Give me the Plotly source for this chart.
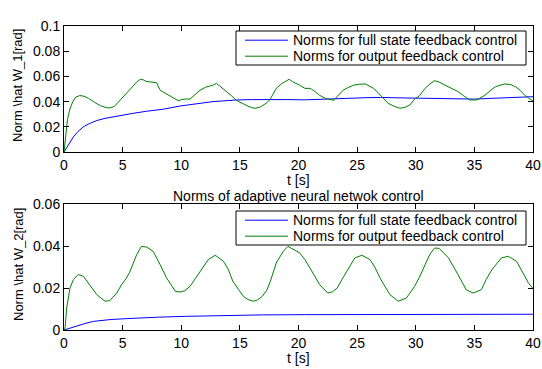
import plotly.graph_objects as go

# ---- data ----
t_top_green = [0, 0.15, 0.3, 0.5, 0.75, 1.0, 1.35, 1.7, 2.1, 2.6, 3.1, 3.6, 3.9, 4.3, 4.8, 5.2, 5.6, 5.9,
               6.2, 6.5, 6.8, 7.0, 7.3, 7.6, 7.9, 8.2, 8.5, 8.8, 9.1, 9.4, 9.75, 10.0, 10.3, 10.75, 11.2,
               11.6, 12.1, 12.7, 13.0, 13.4, 13.9, 14.3, 14.7, 15.2, 15.6, 16.0, 16.3, 16.7, 17.0, 17.3,
               17.6, 18.1, 18.6, 19.0, 19.2, 19.5, 19.85, 20.1, 20.55, 21.0, 21.4, 21.8, 22.3, 22.7, 23.0,
               23.3, 23.8, 24.2, 24.7, 25.2, 25.7, 26.1, 26.4, 26.8, 27.2, 27.6, 28.1, 28.65, 29.1, 29.5,
               29.9, 30.3, 30.8, 31.2, 31.6, 32.0, 32.5, 33.0, 33.6, 34.1, 34.6, 35.2, 35.6, 35.9, 36.4,
               36.8, 37.2, 37.6, 38.1, 38.5, 38.9, 39.3, 39.6, 40.0]
v_top_green = [0, 0.016, 0.026, 0.034, 0.040, 0.0435, 0.0448, 0.0443, 0.0425, 0.0395, 0.0368, 0.0352,
               0.035, 0.0362, 0.0413, 0.045, 0.049, 0.052, 0.0555, 0.0577, 0.0572, 0.0560, 0.0555, 0.0553,
               0.0550, 0.049, 0.0475, 0.0455, 0.0440, 0.0425, 0.0407, 0.0415, 0.042, 0.042, 0.0455,
               0.049, 0.0515, 0.053, 0.0545, 0.0515, 0.048, 0.0445, 0.041, 0.0385, 0.0368, 0.0352,
               0.0347, 0.0355, 0.0373, 0.039, 0.0421, 0.0505, 0.0545, 0.0566, 0.0577, 0.0558, 0.0545,
               0.053, 0.0505, 0.0505, 0.048, 0.045, 0.0425, 0.0413, 0.041, 0.044, 0.049, 0.051, 0.053,
               0.0538, 0.054, 0.052, 0.0505, 0.047, 0.0426, 0.039, 0.0365, 0.0347, 0.0355, 0.0373,
               0.042, 0.0445, 0.0505, 0.054, 0.0566, 0.0555, 0.053, 0.051, 0.048, 0.0445, 0.0413,
               0.0413, 0.0435, 0.045, 0.049, 0.0518, 0.053, 0.054, 0.0535, 0.0518, 0.049, 0.045, 0.043,
               0.0405]

t_top_blue = [0, 0.4, 0.8, 1.2, 1.65, 2.2, 2.8, 3.5, 4.4, 5.2, 5.9, 7.0, 8.5, 9.9, 11.3, 12.7, 14.0,
              14.7, 16.0, 17.3, 19.0, 20.5, 22.5, 24.0, 25.7, 27.0, 29.0, 30.8, 32.5, 34.0, 35.0, 36.5,
              38.0, 39.9, 40.0]
v_top_blue = [0, 0.0062, 0.012, 0.0163, 0.020, 0.0227, 0.025, 0.0267, 0.0283, 0.0296, 0.0307, 0.0323,
              0.034, 0.0365, 0.0385, 0.040, 0.0408, 0.0413, 0.0416, 0.0418, 0.0416, 0.0414, 0.0418,
              0.0425, 0.0431, 0.0433, 0.0429, 0.0426, 0.0423, 0.042, 0.042, 0.0426, 0.0432, 0.0439,
              0.0439]

t_bot_green = [0, 0.09, 0.23, 0.51, 0.8, 1.2, 1.65, 2.2, 2.8, 3.5, 3.9, 4.5, 4.9, 5.3, 5.6, 6.2, 6.6,
               7.05, 7.6, 8.2, 8.75, 9.5, 9.9, 10.3, 10.75, 11.2, 11.6, 12.3, 12.9, 13.6, 14.0, 14.4,
               14.9, 15.3, 15.7, 16.15, 16.5, 16.9, 17.3, 17.6, 18.1, 18.7, 19.1, 19.7, 20.1, 20.55,
               21.0, 21.4, 21.8, 22.5, 22.9, 23.3, 23.7, 24.1, 24.8, 25.4, 26.1, 26.5, 26.95, 27.4,
               27.8, 28.5, 29.2, 29.9, 30.3, 30.8, 31.2, 31.6, 32.0, 32.8, 33.2, 33.6, 34.3, 34.9,
               35.6, 36.0, 36.5, 37.3, 37.9, 38.6, 39.3, 39.6, 40.0]
v_bot_green = [0, 0.001, 0.0105, 0.020, 0.024, 0.0264, 0.0256, 0.0216, 0.0168, 0.0137, 0.014, 0.0176,
               0.0215, 0.0245, 0.0275, 0.0359, 0.0398, 0.0395, 0.0375, 0.0311, 0.0248, 0.0184, 0.0181,
               0.0187, 0.0208, 0.0245, 0.028, 0.0335, 0.0356, 0.0327, 0.029, 0.0232, 0.0192, 0.016,
               0.0145, 0.0137, 0.0143, 0.016, 0.019, 0.0232, 0.0319, 0.0375, 0.0398, 0.038, 0.0367,
               0.0335, 0.0295, 0.0255, 0.0216, 0.0176, 0.0182, 0.020, 0.024, 0.028, 0.0343, 0.0356,
               0.0335, 0.030, 0.0248, 0.0205, 0.0168, 0.0137, 0.0152, 0.0208, 0.025, 0.0311, 0.036,
               0.039, 0.0389, 0.0343, 0.030, 0.0264, 0.0192, 0.0176, 0.0192, 0.024, 0.0287, 0.0343,
               0.0351, 0.0327, 0.0256, 0.0225, 0.0198]

t_bot_blue = [0, 0.5, 1.08, 1.8, 2.5, 3.1, 4.0, 5.3, 6.5, 8.0, 10.3, 12.5, 14.4, 17.0, 20.5, 25.7,
              30.0, 35.0, 40.0]
v_bot_blue = [0, 0.0009, 0.0017, 0.0031, 0.0041, 0.0045, 0.005, 0.0054, 0.0058, 0.0061, 0.0065,
              0.0068, 0.007, 0.0072, 0.0073, 0.0074, 0.0073, 0.0073, 0.0075]

x_ticks = [0, 5, 10, 15, 20, 25, 30, 35, 40]
y1_ticks = [0, 0.02, 0.04, 0.06, 0.08, 0.1]
y1_labels = ["0", "0.02", "0.04", "0.06", "0.08", "0.1"]
y2_ticks = [0, 0.02, 0.04, 0.06]
y2_labels = ["0", "0.02", "0.04", "0.06"]

name_full = "Norms for full state feedback control"
name_out = "Norms for output feedback control"
BLUE = "#0000FF"
GREEN = "#008000"

FONT = "Liberation Sans, Arial, Helvetica, sans-serif"
W, H = 542, 369


def px(x):
    return x / W


def py(y):
    return 1 - y / H


fig = go.Figure()
fig.add_trace(go.Scatter(x=t_top_blue, y=v_top_blue, mode="lines", name=name_full,
                         line=dict(color=BLUE, width=1), xaxis="x", yaxis="y"))
fig.add_trace(go.Scatter(x=t_top_green, y=v_top_green, mode="lines", name=name_out,
                         line=dict(color=GREEN, width=1), xaxis="x", yaxis="y"))
fig.add_trace(go.Scatter(x=t_bot_blue, y=v_bot_blue, mode="lines", name=name_full,
                         line=dict(color=BLUE, width=1), xaxis="x2", yaxis="y2"))
fig.add_trace(go.Scatter(x=t_bot_green, y=v_bot_green, mode="lines", name=name_out,
                         line=dict(color=GREEN, width=1), xaxis="x2", yaxis="y2"))

xdom = [px(64), px(533)]
y1dom = [py(152), py(26)]
y2dom = [py(330), py(204)]

axis_common = dict(showline=True, linecolor="black", linewidth=1, mirror="ticks",
                   ticks="inside", ticklen=5, tickcolor="black", showgrid=False, zeroline=False,
                   automargin=False, tickfont=dict(family=FONT, size=14, color="black"))

shapes = []
annotations = []


def text_ann(text, x, y, xanchor="center", size=14, angle=0):
    return dict(text=text, x=px(x), y=py(y), xref="paper", yref="paper", xanchor=xanchor,
                yanchor="middle", showarrow=False, textangle=angle, borderpad=0,
                font=dict(family=FONT, size=size, color="black"))


# legends (drawn as boxes with sample lines and labels)
for top in (31, 211):
    shapes.append(dict(type="rect", xref="paper", yref="paper", x0=px(236), x1=px(526),
                       y0=py(top + 34), y1=py(top), line=dict(color="black", width=1),
                       fillcolor="white", layer="above"))
    for dy, col, name in ((9.2, BLUE, name_full), (25.2, GREEN, name_out)):
        shapes.append(dict(type="line", xref="paper", yref="paper", x0=px(245), x1=px(288),
                           y0=py(top + dy), y1=py(top + dy), line=dict(color=col, width=1),
                           layer="above"))
        annotations.append(text_ann(name, 292, top + dy, xanchor="left"))

annotations.append(text_ann("t [s]", 298.5, 180.5))
annotations.append(text_ann("t [s]", 298.5, 358))
annotations.append(text_ann("Norms of adaptive neural netwok control", 298.5, 196.5))
annotations.append(text_ann("Norm \\hat W_1[rad]", 18, 86, size=13, angle=-90))
annotations.append(text_ann("Norm \\hat W_2[rad]", 18, 265, size=13, angle=-90))

fig.update_layout(
    width=W, height=H,
    margin=dict(l=0, r=0, t=0, b=0, autoexpand=False),
    paper_bgcolor="white", plot_bgcolor="white",
    font=dict(family=FONT, size=14, color="black"),
    showlegend=False,
    xaxis=dict(domain=xdom, anchor="y", range=[0, 40], tickvals=x_ticks, **axis_common),
    yaxis=dict(domain=y1dom, anchor="x", range=[0, 0.1], tickvals=y1_ticks, ticktext=y1_labels,
               **axis_common),
    xaxis2=dict(domain=xdom, anchor="y2", range=[0, 40], tickvals=x_ticks, **axis_common),
    yaxis2=dict(domain=y2dom, anchor="x2", range=[0, 0.06], tickvals=y2_ticks, ticktext=y2_labels,
                **axis_common),
    shapes=shapes,
    annotations=annotations,
)

fig.write_html("out.html")
